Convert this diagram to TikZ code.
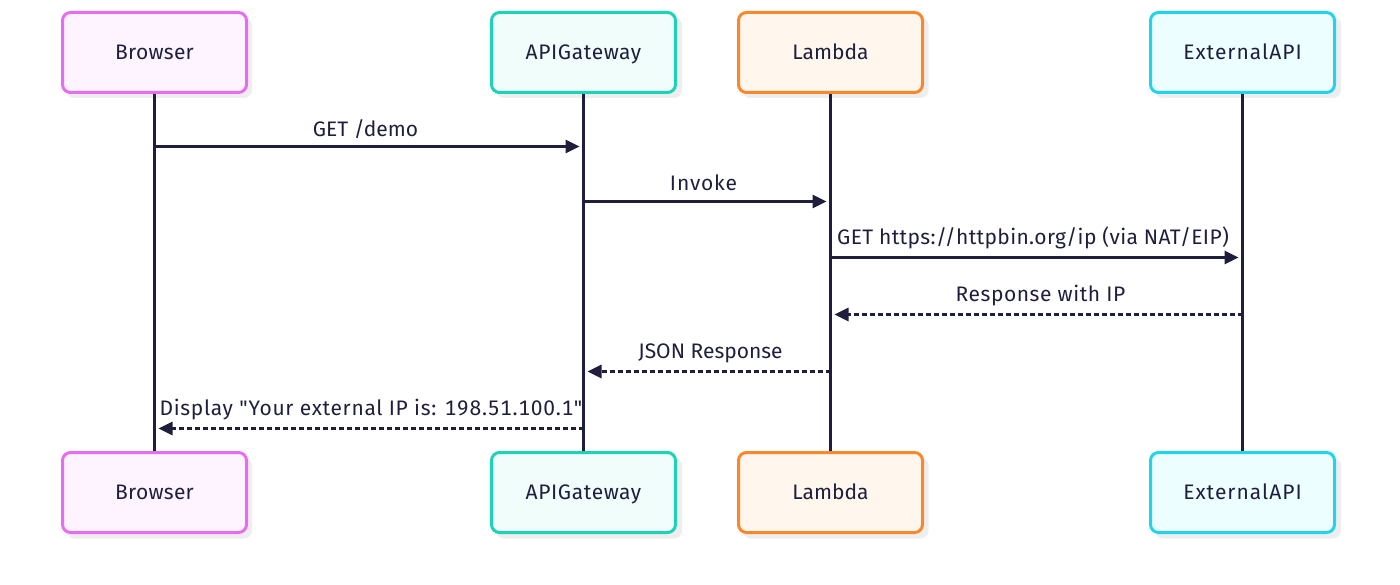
\documentclass[tikz,border=0pt]{standalone}
\usepackage{fontspec}
\newfontfamily\labelfont[Numbers=Monospaced]{Fira Sans}
\newcommand\lsp[2]{{\addfontfeature{LetterSpace=#1}#2}}
\usetikzlibrary{arrows.meta}
\definecolor{ink}{HTML}{1F1F3D}
\definecolor{shad}{HTML}{EEEEEE}
\definecolor{cb}{HTML}{E76BF3}
\definecolor{cg}{HTML}{1CD3B5}
\definecolor{cl}{HTML}{F9872C}
\definecolor{ce}{HTML}{22D3EE}
\definecolor{fb}{HTML}{FDF4FF}
\definecolor{fg}{HTML}{F0FDFA}
\definecolor{fl}{HTML}{FFF7ED}
\definecolor{fe}{HTML}{ECFEFF}
\tikzset{
  x=1pt,y=-1pt,
  actor/.style 2 args={draw=#1,fill=#2,line width=3pt,rounded corners=8pt,minimum width=184pt,minimum height=80pt,inner sep=0pt,text=ink,text height=18pt,text depth=4pt,font=\labelfont\fontsize{21}{25}\selectfont},
  life/.style={draw=ink,line width=3pt},
  msg/.style={draw=ink,line width=3pt,-{Triangle[length=14pt,width=13pt]},shorten >=4pt},
  reply/.style={msg,dash pattern=on 5pt off 3pt},
  lbl/.style={text=ink,inner sep=0pt,anchor=base,font=\labelfont\fontsize{21}{25}\selectfont},
  shadowbox/.style={fill=shad,rounded corners=8pt,minimum width=186pt,minimum height=81pt,inner sep=0pt,draw=none}
}
\begin{document}
\begin{tikzpicture}
\useasboundingbox (0,0) rectangle (1400,585);
\foreach \cx/\cy/\nm in {154/52.5/sa,584/52.5/sb,830.5/52.5/sc,1243/52.5/sd,154/493/se,584/493/sf,830.5/493/sg,1243/493/sh}
  \node[shadowbox] (\nm) at (\cx+5,\cy+5) {};
\node[actor={cb}{fb}] (bt) at (154.5,52.5) {\lsp{1.4}{Browser}};
\node[actor={cg}{fg}] (gt) at (583.5,52.5) {\lsp{2.9}{APIGateway}};
\node[actor={cl}{fl}] (lt) at (830.5,52.5) {Lambda};
\node[actor={ce}{fe}] (et) at (1242.5,52.5) {\lsp{4.8}{ExternalAPI}};
\node[actor={cb}{fb}] (bb) at (154.5,492.5) {\lsp{1.4}{Browser}};
\node[actor={cg}{fg}] (gb) at (583.5,492.5) {\lsp{2.9}{APIGateway}};
\node[actor={cl}{fl}] (lb) at (830.5,492.5) {Lambda};
\node[actor={ce}{fe}] (eb) at (1242.5,492.5) {\lsp{4.8}{ExternalAPI}};
\draw[life] (bt) -- (bb);
\draw[life] (gt) -- (gb);
\draw[life] (lt) -- (lb);
\draw[life] (et) -- (eb);
\coordinate (m1a) at (154.5,146.5); \coordinate (m1b) at (583.5,146.5);
\coordinate (m2a) at (583.5,201.5); \coordinate (m2b) at (830.5,201.5);
\coordinate (m3a) at (830.5,257.5); \coordinate (m3b) at (1242.5,257.5);
\coordinate (m4a) at (1242.5,314.5); \coordinate (m4b) at (830.5,314.5);
\coordinate (m5a) at (830.5,371.5); \coordinate (m5b) at (583.5,371.5);
\coordinate (m6a) at (583.5,428.5); \coordinate (m6b) at (154.5,428.5);
\draw[msg] (m1a) -- (m1b);
\draw[msg] (m2a) -- (m2b);
\draw[msg] (m3a) -- (m3b);
\draw[reply] (m4a) -- (m4b);
\draw[reply] (m5a) -- (m5b);
\draw[reply] (m6a) -- (m6b);
\node[lbl] (l1) at (365.5,137) {GET /demo};
\node[lbl] (l2) at (703.5,191) {\lsp{4}{Invoke}};
\node[lbl] (l3) at (1033,244.5) {\lsp{1.7}{GET https://httpbin.org/ip (via NAT/EIP)}};
\node[lbl] (l4) at (1040.5,301.5) {\lsp{2.7}{Response with IP}};
\node[lbl] (l5) at (710.5,358.5) {JSON Response};
\node[lbl] (l6) at (371,415) {\lsp{3.3}{Display "Your external IP is: 198.51.100.1"}};
\end{tikzpicture}
\end{document}
